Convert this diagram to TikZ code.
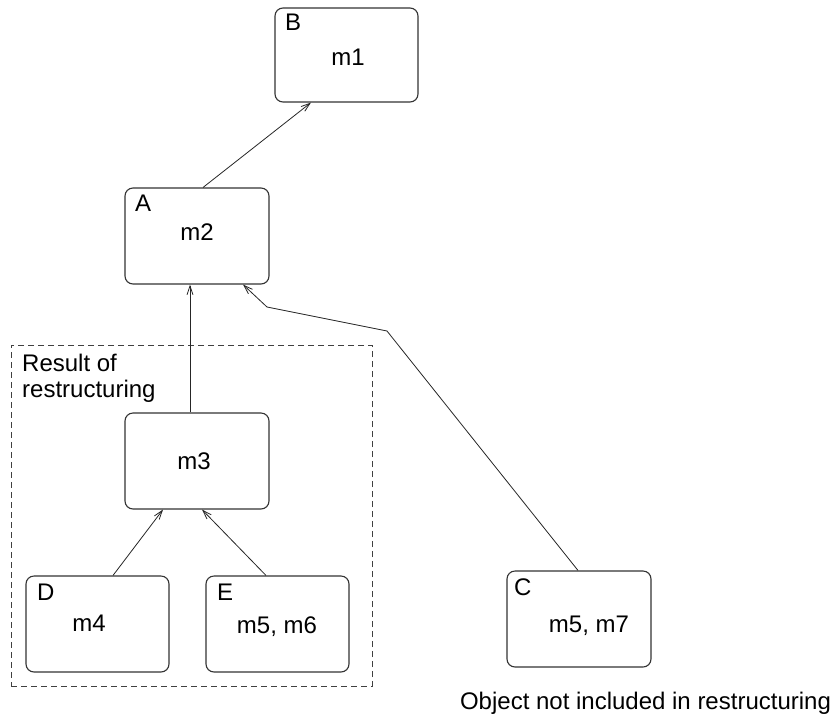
\documentclass[tikz,border=0pt]{standalone}
\usepackage{fontspec}
\setmainfont{Liberation Sans}
\usetikzlibrary{arrows.meta}
\begin{document}
\begin{tikzpicture}[x=1pt,y=-1pt,
  objbox/.style={draw=black!80,line width=1.1pt,rounded corners=8pt,inner sep=0pt},
  lbl/.style={inner sep=0pt,font=\fontsize{24}{28}\selectfont},
  link/.style={draw=black!85,line width=0.8pt,-{Straight Barb[length=9pt,width=6pt]}},
  groupbox/.style={draw=black!75,line width=0.8pt,dash pattern=on 6pt off 4pt,inner sep=0pt}]
\useasboundingbox (0,0) rectangle (833,716);

% objects
\node[objbox,minimum width=143pt,minimum height=94pt] (B) at (346.5,55) {};
\node[objbox,minimum width=144pt,minimum height=96pt] (A) at (197,236) {};
\node[objbox,minimum width=144pt,minimum height=96pt] (M) at (197,461) {};
\node[objbox,minimum width=143pt,minimum height=96pt] (D) at (97.5,624) {};
\node[objbox,minimum width=143pt,minimum height=96pt] (E) at (277.5,624) {};
\node[objbox,minimum width=144pt,minimum height=96pt] (C) at (579,619) {};

% restructured group
\node[groupbox,minimum width=361pt,minimum height=341pt] (G) at (191.5,515.5) {};

% labels
\node[lbl,anchor=base west] (Bl) at (285,30) {B};
\node[lbl,anchor=base] (Bm) at (348,65) {m1};
\node[lbl,anchor=base west] (Al) at (135,211) {A};
\node[lbl,anchor=base] (Am) at (197,240) {m2};
\node[lbl,anchor=base] (Mm) at (194,469) {m3};
\node[lbl,anchor=base west] (Dl) at (37,600) {D};
\node[lbl,anchor=base] (Dm) at (89,631) {m4};
\node[lbl,anchor=base west] (El) at (217,600) {E};
\node[lbl,anchor=base] (Em) at (277,633) {m5, m6};
\node[lbl,anchor=base west] (Cl) at (514,595) {C};
\node[lbl,anchor=base] (Cm) at (589,632) {m5, m7};
\node[lbl,anchor=base west] (G1) at (22,371) {Result of};
\node[lbl,anchor=base west] (G2) at (22,397) {restructuring};
\node[lbl,anchor=base] (note) at (645.5,709) {Object not included in restructuring};

% bend points of the C link
\coordinate (c1) at (387,331);
\coordinate (c2) at (267,307);

% links
\draw[link] ([xshift=6pt]A.north) -- ([xshift=-35.5pt]B.south);
\draw[link] ([xshift=-7pt]M.north) -- ([xshift=-7pt]A.south);
\draw[link] ([xshift=15.5pt]D.north) -- ([xshift=-34pt]M.south);
\draw[link] ([xshift=-11.5pt]E.north) -- ([xshift=5pt]M.south);
\draw[link] ([xshift=-1pt]C.north) -- (c1) -- (c2) -- ([xshift=46pt]A.south);
\end{tikzpicture}
\end{document}
